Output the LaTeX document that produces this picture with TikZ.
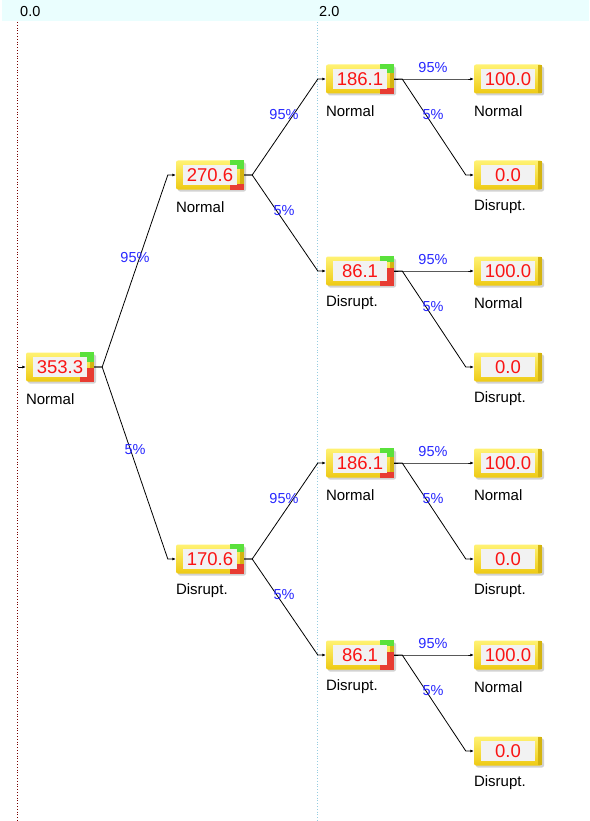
\documentclass[tikz,border=0pt]{standalone}
\usepackage{fontspec}
\setmainfont{Liberation Sans}
\usetikzlibrary{arrows.meta,shadows,calc}
\definecolor{hdr}{RGB}{234,254,254}
\definecolor{ytop}{RGB}{255,242,115}
\definecolor{ybot}{RGB}{238,202,20}
\definecolor{capc}{RGB}{212,180,15}
\definecolor{innerc}{RGB}{242,242,242}
\definecolor{valred}{RGB}{250,20,20}
\definecolor{problue}{RGB}{40,40,255}
\definecolor{gmark}{RGB}{90,225,60}
\definecolor{rmark}{RGB}{232,60,50}
\definecolor{guideA}{RGB}{120,0,0}
\definecolor{guideB}{RGB}{150,205,225}
\tikzset{
  ybox/.style={draw=none, minimum width=68pt, minimum height=29pt, rounded corners=2pt,
    top color=ytop, bottom color=ybot, inner sep=0pt,
    drop shadow={shadow xshift=2pt, shadow yshift=-2pt, opacity=0.35}},
  valbox/.style={fill=innerc, text=valred, font=\fontsize{18.5}{18.5}\selectfont,
    minimum width=54pt, minimum height=20pt, inner sep=0pt},
  lbl/.style={anchor=west, inner sep=0pt, font=\fontsize{15}{15}\selectfont},
  prob/.style={text=problue, inner sep=0pt, font=\fontsize{14.5}{14.5}\selectfont},
  hdrtext/.style={anchor=west, inner sep=0pt, font=\fontsize{14.5}{14.5}\selectfont},
  conn/.style={draw=black, line width=0.8pt, -{Latex[length=3.5pt,width=3pt]}},
}
% name, x, y, value, label, green height, red height
\newcommand\dbox[7]{%
  \node[ybox] (#1) at (#2,#3) {};
  \fill[capc] ($(#1.north east)+(-4,1)$) rectangle ($(#1.south east)+(0,-1)$);
  \fill[gmark] ($(#1.north east)+(-14,0)$) rectangle ($(#1.north east)+(0,#6)$);
  \fill[rmark] ($(#1.south east)+(-14,0)$) rectangle ($(#1.south east)+(0,-#7)$);
  \node[valbox] (#1v) at (#1.center) {#4};
  \node[lbl] (#1l) at ($(#1.south west)+(0,17)$) {#5};
}
\newcommand\leafbox[5]{%
  \node[ybox] (#1) at (#2,#3) {};
  \fill[capc] ($(#1.north east)+(-4,1)$) rectangle ($(#1.south east)+(0,-1)$);
  \node[valbox] (#1v) at (#1.center) {#4};
  \node[lbl] (#1l) at ($(#1.south west)+(0,17)$) {#5};
}
\newcommand\branch[2]{\draw[conn] (#1.east) -- ++(8,0) -- ([xshift=-8pt]#2.west) -- (#2.west);}
\begin{document}
\begin{tikzpicture}[x=1pt,y=-1pt]
\useasboundingbox (0,0) rectangle (589,821);
\fill[white] (0,0) rectangle (589,821);
\fill[hdr] (2,0) rectangle (589,21);
\node[hdrtext] (h0) at (20,12) {0.0};
\node[hdrtext] (h2) at (319,12) {2.0};
\draw[guideA, dotted, line width=0.8pt] (17,22) -- (17,821);
\draw[guideB, dotted, line width=0.8pt] (317,22) -- (317,821);

\dbox{r}{60}{367}{353.3}{Normal}{10}{14}
\dbox{a}{210}{175}{270.6}{Normal}{9}{6}
\dbox{b}{210}{559}{170.6}{Disrupt.}{8}{10}
\dbox{aa}{360}{79}{186.1}{Normal}{9}{6}
\dbox{ab}{360}{271}{86.1}{Disrupt.}{6}{18}
\dbox{ba}{360}{463}{186.1}{Normal}{9}{6}
\dbox{bb}{360}{655}{86.1}{Disrupt.}{6}{18}
\leafbox{l1}{508}{79}{100.0}{Normal}
\leafbox{l2}{508}{175}{0.0}{Disrupt.}
\leafbox{l3}{508}{271}{100.0}{Normal}
\leafbox{l4}{508}{367}{0.0}{Disrupt.}
\leafbox{l5}{508}{463}{100.0}{Normal}
\leafbox{l6}{508}{559}{0.0}{Disrupt.}
\leafbox{l7}{508}{655}{100.0}{Normal}
\leafbox{l8}{508}{751}{0.0}{Disrupt.}

\coordinate (start) at (18,367);
\draw[conn] (start) -- (r.west);

\branch{r}{a}\branch{r}{b}
\branch{a}{aa}\branch{a}{ab}
\branch{b}{ba}\branch{b}{bb}
\branch{aa}{l1}\branch{aa}{l2}
\branch{ab}{l3}\branch{ab}{l4}
\branch{ba}{l5}\branch{ba}{l6}
\branch{bb}{l7}\branch{bb}{l8}

\node[prob] (p1) at (135,258) {95\%};
\node[prob] (p2) at (135,450) {5\%};
\node[prob] (p3) at (284,115) {95\%};
\node[prob] (p4) at (284,211) {5\%};
\node[prob] (p5) at (284,499) {95\%};
\node[prob] (p6) at (284,595) {5\%};
\node[prob] (p7) at (433,68) {95\%};
\node[prob] (p8) at (433,115) {5\%};
\node[prob] (p9) at (433,260) {95\%};
\node[prob] (p10) at (433,307) {5\%};
\node[prob] (p11) at (433,452) {95\%};
\node[prob] (p12) at (433,499) {5\%};
\node[prob] (p13) at (433,644) {95\%};
\node[prob] (p14) at (433,691) {5\%};
\end{tikzpicture}
\end{document}
